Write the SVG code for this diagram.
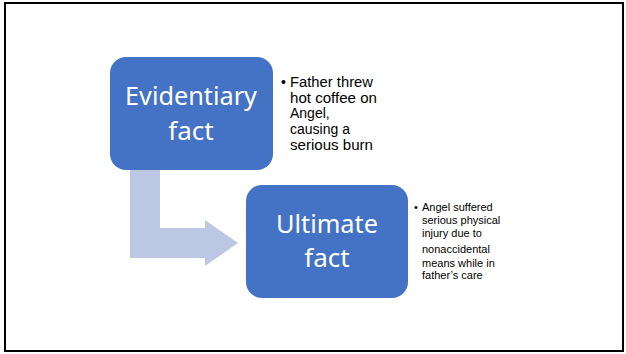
<svg xmlns="http://www.w3.org/2000/svg" width="626" height="354" viewBox="0 0 626 354">
<style>
.box{fill:#4472C4;}
.big{font-family:"Noto Sans","Liberation Sans",sans-serif;font-size:26px;fill:#fff;text-anchor:middle;}
.t1{font-family:"Liberation Sans",Arial,sans-serif;font-size:14px;fill:#000;}
.t2{font-family:"Liberation Sans",Arial,sans-serif;font-size:11px;fill:#000;}
</style>
<rect x="0" y="0" width="626" height="354" fill="#fff"/>
<rect x="5" y="3" width="618" height="348" fill="none" stroke="#000" stroke-width="2"/>
<g id="connectors">
<path d="M130 170 H160 V228 H205 V220 L238 243 L205 266 V258 H130 Z" fill="#BCC7E3"/>
</g>
<g id="evidentiary">
<rect class="box" x="110" y="57" width="163" height="113" rx="16"/>
<text class="big" x="191" y="105" textLength="132" lengthAdjust="spacingAndGlyphs">Evidentiary</text>
<text class="big" x="191" y="140">fact</text>
</g>
<g id="evidentiary-note">
<text class="t1" x="281" y="87">•</text>
<text class="t1" x="290" y="87" textLength="83" lengthAdjust="spacingAndGlyphs">Father threw</text>
<text class="t1" x="290" y="103" textLength="87" lengthAdjust="spacingAndGlyphs">hot coffee on</text>
<text class="t1" x="290" y="118">Angel,</text>
<text class="t1" x="290" y="134">causing a</text>
<text class="t1" x="290" y="150" textLength="83" lengthAdjust="spacingAndGlyphs">serious burn</text>
</g>
<g id="ultimate">
<rect class="box" x="246" y="185" width="162" height="113" rx="16"/>
<text class="big" x="327" y="233" textLength="102" lengthAdjust="spacingAndGlyphs">Ultimate</text>
<text class="big" x="327" y="267">fact</text>
</g>
<g id="ultimate-note">
<text class="t2" x="414" y="211">•</text>
<text class="t2" x="422" y="211">Angel suffered</text>
<text class="t2" x="422" y="224">serious physical</text>
<text class="t2" x="422" y="237">injury due to</text>
<text class="t2" x="422" y="253">nonaccidental</text>
<text class="t2" x="422" y="267">means while in</text>
<text class="t2" x="422" y="279">father’s care</text>
</g>
</svg>
